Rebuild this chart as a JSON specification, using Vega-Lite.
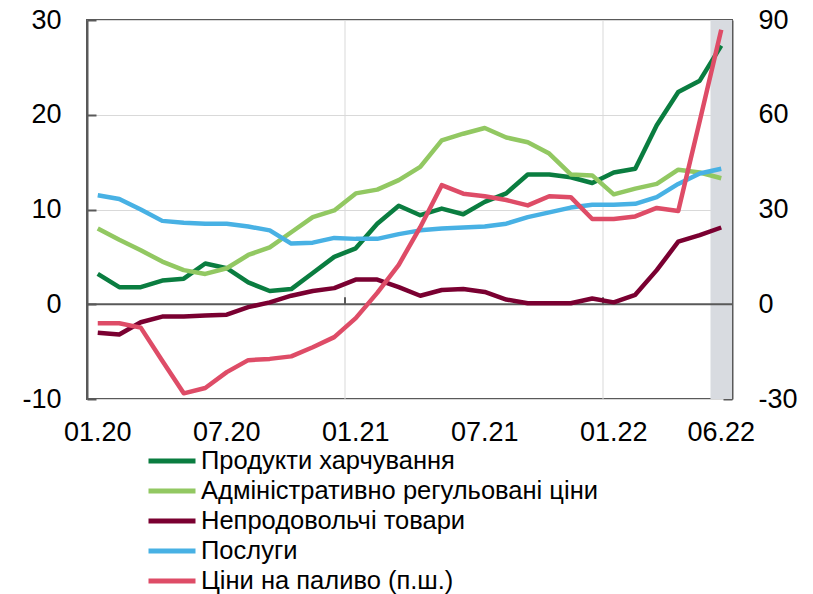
{
  "$schema": "https://vega.github.io/schema/vega-lite/v6.json",
  "width": 645,
  "height": 379,
  "autosize": {"type": "none"},
  "padding": {"left": 87, "top": 20, "right": 81, "bottom": 195},
  "background": "white",
  "config": {
    "view": {"stroke": "#595959", "strokeWidth": 2},
    "font": "Liberation Sans",
    "axis": {"labelFont": "Liberation Sans", "labelFontSize": 27, "labelColor": "#000000"},
    "axisX": {"domain": false, "ticks": false, "grid": false, "labelPadding": 20, "labelAngle": 0},
    "legend": {
      "orient": "none", "legendX": 59, "legendY": 426, "padding": 0,
      "symbolType": "stroke", "symbolSize": 2209, "symbolStrokeWidth": 5,
      "labelFont": "Liberation Sans", "labelFontSize": 25.5, "labelColor": "#000000",
      "labelLimit": 0, "clipHeight": 30, "rowPadding": 0, "labelOffset": 3
    }
  },
  "datasets": {
    "band": [{"month": "06.22"}],
    "years": [{"month": "01.21"}, {"month": "01.22"}],
    "zero": [{"level": 0}],
    "series": [
      {"month": "01.20", "series": "Продукти харчування", "value": 3.2},
      {"month": "02.20", "series": "Продукти харчування", "value": 1.8},
      {"month": "03.20", "series": "Продукти харчування", "value": 1.8},
      {"month": "04.20", "series": "Продукти харчування", "value": 2.5},
      {"month": "05.20", "series": "Продукти харчування", "value": 2.7},
      {"month": "06.20", "series": "Продукти харчування", "value": 4.3},
      {"month": "07.20", "series": "Продукти харчування", "value": 3.8},
      {"month": "08.20", "series": "Продукти харчування", "value": 2.3},
      {"month": "09.20", "series": "Продукти харчування", "value": 1.4},
      {"month": "10.20", "series": "Продукти харчування", "value": 1.6},
      {"month": "11.20", "series": "Продукти харчування", "value": 3.3},
      {"month": "12.20", "series": "Продукти харчування", "value": 5.0},
      {"month": "01.21", "series": "Продукти харчування", "value": 5.9},
      {"month": "02.21", "series": "Продукти харчування", "value": 8.5},
      {"month": "03.21", "series": "Продукти харчування", "value": 10.4},
      {"month": "04.21", "series": "Продукти харчування", "value": 9.4},
      {"month": "05.21", "series": "Продукти харчування", "value": 10.1},
      {"month": "06.21", "series": "Продукти харчування", "value": 9.5},
      {"month": "07.21", "series": "Продукти харчування", "value": 10.8},
      {"month": "08.21", "series": "Продукти харчування", "value": 11.7},
      {"month": "09.21", "series": "Продукти харчування", "value": 13.7},
      {"month": "10.21", "series": "Продукти харчування", "value": 13.7},
      {"month": "11.21", "series": "Продукти харчування", "value": 13.4},
      {"month": "12.21", "series": "Продукти харчування", "value": 12.8},
      {"month": "01.22", "series": "Продукти харчування", "value": 13.9},
      {"month": "02.22", "series": "Продукти харчування", "value": 14.3},
      {"month": "03.22", "series": "Продукти харчування", "value": 18.9},
      {"month": "04.22", "series": "Продукти харчування", "value": 22.4},
      {"month": "05.22", "series": "Продукти харчування", "value": 23.6},
      {"month": "06.22", "series": "Продукти харчування", "value": 27.3},

      {"month": "01.20", "series": "Адміністративно регульовані ціни", "value": 8.0},
      {"month": "02.20", "series": "Адміністративно регульовані ціни", "value": 6.8},
      {"month": "03.20", "series": "Адміністративно регульовані ціни", "value": 5.7},
      {"month": "04.20", "series": "Адміністративно регульовані ціни", "value": 4.5},
      {"month": "05.20", "series": "Адміністративно регульовані ціни", "value": 3.6},
      {"month": "06.20", "series": "Адміністративно регульовані ціни", "value": 3.2},
      {"month": "07.20", "series": "Адміністративно регульовані ціни", "value": 3.8},
      {"month": "08.20", "series": "Адміністративно регульовані ціни", "value": 5.2},
      {"month": "09.20", "series": "Адміністративно регульовані ціни", "value": 6.0},
      {"month": "10.20", "series": "Адміністративно регульовані ціни", "value": 7.6},
      {"month": "11.20", "series": "Адміністративно регульовані ціни", "value": 9.2},
      {"month": "12.20", "series": "Адміністративно регульовані ціни", "value": 9.9},
      {"month": "01.21", "series": "Адміністративно регульовані ціни", "value": 11.7},
      {"month": "02.21", "series": "Адміністративно регульовані ціни", "value": 12.1},
      {"month": "03.21", "series": "Адміністративно регульовані ціни", "value": 13.1},
      {"month": "04.21", "series": "Адміністративно регульовані ціни", "value": 14.5},
      {"month": "05.21", "series": "Адміністративно регульовані ціни", "value": 17.3},
      {"month": "06.21", "series": "Адміністративно регульовані ціни", "value": 18.0},
      {"month": "07.21", "series": "Адміністративно регульовані ціни", "value": 18.6},
      {"month": "08.21", "series": "Адміністративно регульовані ціни", "value": 17.6},
      {"month": "09.21", "series": "Адміністративно регульовані ціни", "value": 17.1},
      {"month": "10.21", "series": "Адміністративно регульовані ціни", "value": 15.9},
      {"month": "11.21", "series": "Адміністративно регульовані ціни", "value": 13.7},
      {"month": "12.21", "series": "Адміністративно регульовані ціни", "value": 13.6},
      {"month": "01.22", "series": "Адміністративно регульовані ціни", "value": 11.6},
      {"month": "02.22", "series": "Адміністративно регульовані ціни", "value": 12.2},
      {"month": "03.22", "series": "Адміністративно регульовані ціни", "value": 12.7},
      {"month": "04.22", "series": "Адміністративно регульовані ціни", "value": 14.2},
      {"month": "05.22", "series": "Адміністративно регульовані ціни", "value": 13.9},
      {"month": "06.22", "series": "Адміністративно регульовані ціни", "value": 13.3},

      {"month": "01.20", "series": "Непродовольчі товари", "value": -3.0},
      {"month": "02.20", "series": "Непродовольчі товари", "value": -3.2},
      {"month": "03.20", "series": "Непродовольчі товари", "value": -1.9},
      {"month": "04.20", "series": "Непродовольчі товари", "value": -1.3},
      {"month": "05.20", "series": "Непродовольчі товари", "value": -1.3},
      {"month": "06.20", "series": "Непродовольчі товари", "value": -1.2},
      {"month": "07.20", "series": "Непродовольчі товари", "value": -1.1},
      {"month": "08.20", "series": "Непродовольчі товари", "value": -0.3},
      {"month": "09.20", "series": "Непродовольчі товари", "value": 0.2},
      {"month": "10.20", "series": "Непродовольчі товари", "value": 0.9},
      {"month": "11.20", "series": "Непродовольчі товари", "value": 1.4},
      {"month": "12.20", "series": "Непродовольчі товари", "value": 1.7},
      {"month": "01.21", "series": "Непродовольчі товари", "value": 2.6},
      {"month": "02.21", "series": "Непродовольчі товари", "value": 2.6},
      {"month": "03.21", "series": "Непродовольчі товари", "value": 1.8},
      {"month": "04.21", "series": "Непродовольчі товари", "value": 0.9},
      {"month": "05.21", "series": "Непродовольчі товари", "value": 1.5},
      {"month": "06.21", "series": "Непродовольчі товари", "value": 1.6},
      {"month": "07.21", "series": "Непродовольчі товари", "value": 1.3},
      {"month": "08.21", "series": "Непродовольчі товари", "value": 0.5},
      {"month": "09.21", "series": "Непродовольчі товари", "value": 0.1},
      {"month": "10.21", "series": "Непродовольчі товари", "value": 0.1},
      {"month": "11.21", "series": "Непродовольчі товари", "value": 0.1},
      {"month": "12.21", "series": "Непродовольчі товари", "value": 0.6},
      {"month": "01.22", "series": "Непродовольчі товари", "value": 0.2},
      {"month": "02.22", "series": "Непродовольчі товари", "value": 1.0},
      {"month": "03.22", "series": "Непродовольчі товари", "value": 3.6},
      {"month": "04.22", "series": "Непродовольчі товари", "value": 6.6},
      {"month": "05.22", "series": "Непродовольчі товари", "value": 7.3},
      {"month": "06.22", "series": "Непродовольчі товари", "value": 8.1},

      {"month": "01.20", "series": "Послуги", "value": 11.5},
      {"month": "02.20", "series": "Послуги", "value": 11.1},
      {"month": "03.20", "series": "Послуги", "value": 10.0},
      {"month": "04.20", "series": "Послуги", "value": 8.8},
      {"month": "05.20", "series": "Послуги", "value": 8.6},
      {"month": "06.20", "series": "Послуги", "value": 8.5},
      {"month": "07.20", "series": "Послуги", "value": 8.5},
      {"month": "08.20", "series": "Послуги", "value": 8.2},
      {"month": "09.20", "series": "Послуги", "value": 7.8},
      {"month": "10.20", "series": "Послуги", "value": 6.4},
      {"month": "11.20", "series": "Послуги", "value": 6.5},
      {"month": "12.20", "series": "Послуги", "value": 7.0},
      {"month": "01.21", "series": "Послуги", "value": 6.9},
      {"month": "02.21", "series": "Послуги", "value": 6.9},
      {"month": "03.21", "series": "Послуги", "value": 7.4},
      {"month": "04.21", "series": "Послуги", "value": 7.8},
      {"month": "05.21", "series": "Послуги", "value": 8.0},
      {"month": "06.21", "series": "Послуги", "value": 8.1},
      {"month": "07.21", "series": "Послуги", "value": 8.2},
      {"month": "08.21", "series": "Послуги", "value": 8.5},
      {"month": "09.21", "series": "Послуги", "value": 9.2},
      {"month": "10.21", "series": "Послуги", "value": 9.7},
      {"month": "11.21", "series": "Послуги", "value": 10.2},
      {"month": "12.21", "series": "Послуги", "value": 10.5},
      {"month": "01.22", "series": "Послуги", "value": 10.5},
      {"month": "02.22", "series": "Послуги", "value": 10.6},
      {"month": "03.22", "series": "Послуги", "value": 11.3},
      {"month": "04.22", "series": "Послуги", "value": 12.7},
      {"month": "05.22", "series": "Послуги", "value": 13.8},
      {"month": "06.22", "series": "Послуги", "value": 14.3}
    ],
    "fuel": [
      {"month": "01.20", "series": "Ціни на паливо (п.ш.)", "value": -6.0},
      {"month": "02.20", "series": "Ціни на паливо (п.ш.)", "value": -6.0},
      {"month": "03.20", "series": "Ціни на паливо (п.ш.)", "value": -7.4},
      {"month": "04.20", "series": "Ціни на паливо (п.ш.)", "value": -17.9},
      {"month": "05.20", "series": "Ціни на паливо (п.ш.)", "value": -28.2},
      {"month": "06.20", "series": "Ціни на паливо (п.ш.)", "value": -26.5},
      {"month": "07.20", "series": "Ціни на паливо (п.ш.)", "value": -21.5},
      {"month": "08.20", "series": "Ціни на паливо (п.ш.)", "value": -17.7},
      {"month": "09.20", "series": "Ціни на паливо (п.ш.)", "value": -17.3},
      {"month": "10.20", "series": "Ціни на паливо (п.ш.)", "value": -16.5},
      {"month": "11.20", "series": "Ціни на паливо (п.ш.)", "value": -13.6},
      {"month": "12.20", "series": "Ціни на паливо (п.ш.)", "value": -10.4},
      {"month": "01.21", "series": "Ціни на паливо (п.ш.)", "value": -4.4},
      {"month": "02.21", "series": "Ціни на паливо (п.ш.)", "value": 3.6},
      {"month": "03.21", "series": "Ціни на паливо (п.ш.)", "value": 12.5},
      {"month": "04.21", "series": "Ціни на паливо (п.ш.)", "value": 24.4},
      {"month": "05.21", "series": "Ціни на паливо (п.ш.)", "value": 37.7},
      {"month": "06.21", "series": "Ціни на паливо (п.ш.)", "value": 35.0},
      {"month": "07.21", "series": "Ціни на паливо (п.ш.)", "value": 34.2},
      {"month": "08.21", "series": "Ціни на паливо (п.ш.)", "value": 33.0},
      {"month": "09.21", "series": "Ціни на паливо (п.ш.)", "value": 31.3},
      {"month": "10.21", "series": "Ціни на паливо (п.ш.)", "value": 34.2},
      {"month": "11.21", "series": "Ціни на паливо (п.ш.)", "value": 33.9},
      {"month": "12.21", "series": "Ціни на паливо (п.ш.)", "value": 27.0},
      {"month": "01.22", "series": "Ціни на паливо (п.ш.)", "value": 27.0},
      {"month": "02.22", "series": "Ціни на паливо (п.ш.)", "value": 27.8},
      {"month": "03.22", "series": "Ціни на паливо (п.ш.)", "value": 30.5},
      {"month": "04.22", "series": "Ціни на паливо (п.ш.)", "value": 29.5},
      {"month": "05.22", "series": "Ціни на паливо (п.ш.)", "value": 58.0},
      {"month": "06.22", "series": "Ціни на паливо (п.ш.)", "value": 86.9}
    ]
  },
  "layer": [
    {
      "layer": [
        {
          "data": {"name": "band"},
          "mark": {"type": "rect", "color": "#d8dbe0"},
          "encoding": {
            "x": {
              "field": "month", "type": "ordinal",
              "scale": {"type": "band", "paddingInner": 0, "paddingOuter": 0,
                "domain": ["01.20","02.20","03.20","04.20","05.20","06.20","07.20","08.20","09.20","10.20","11.20","12.20","01.21","02.21","03.21","04.21","05.21","06.21","07.21","08.21","09.21","10.21","11.21","12.21","01.22","02.22","03.22","04.22","05.22","06.22"]},
              "axis": {"values": ["01.20","07.20","01.21","07.21","01.22","06.22"], "title": null}
            }
          }
        },
        {
          "data": {"name": "years"},
          "mark": {"type": "rule", "color": "#d9d9d9", "strokeWidth": 1},
          "encoding": {
            "x": {"field": "month", "type": "ordinal", "bandPosition": 0,
              "axis": {"values": ["01.20","07.20","01.21","07.21","01.22","06.22"], "title": null}}
          }
        },
        {
          "data": {"name": "zero"},
          "mark": {"type": "rule", "color": "#595959", "strokeWidth": 2},
          "encoding": {
            "y": {"field": "level", "type": "quantitative", "scale": {"domain": [-10, 30], "nice": false, "zero": false},
              "axis": {
                "orient": "left", "title": null, "values": [-10, 0, 10, 20, 30],
                "grid": true, "gridColor": "#d9d9d9", "gridWidth": 1,
                "domainColor": "#595959", "domainWidth": 2,
                "tickColor": "#595959", "tickWidth": 2, "tickSize": -9,
                "labelPadding": 35, "labelAlign": "right", "labelExpr": "'' + datum.value"
              }}
          }
        },
        {
          "data": {"name": "years"},
          "mark": {"type": "rule", "color": "#595959", "strokeWidth": 2},
          "encoding": {
            "x": {"field": "month", "type": "ordinal", "bandPosition": 0,
              "axis": {"values": ["01.20","07.20","01.21","07.21","01.22","06.22"], "title": null}},
            "y": {"datum": 0, "type": "quantitative", "scale": {"domain": [-10, 30], "nice": false, "zero": false},
              "axis": {
                "orient": "left", "title": null, "values": [-10, 0, 10, 20, 30],
                "grid": true, "gridColor": "#d9d9d9", "gridWidth": 1,
                "domainColor": "#595959", "domainWidth": 2,
                "tickColor": "#595959", "tickWidth": 2, "tickSize": -9,
                "labelPadding": 35, "labelAlign": "right", "labelExpr": "'' + datum.value"
              }},
            "y2": {"datum": 0.75}
          }
        },
        {
          "data": {"name": "series"},
          "mark": {"type": "line", "strokeWidth": 4.5, "strokeJoin": "round"},
          "encoding": {
            "x": {"field": "month", "type": "ordinal", "bandPosition": 0.5,
              "axis": {"values": ["01.20","07.20","01.21","07.21","01.22","06.22"], "title": null}},
            "y": {
              "field": "value", "type": "quantitative",
              "scale": {"domain": [-10, 30], "nice": false, "zero": false},
              "axis": {
                "orient": "left", "title": null, "values": [-10, 0, 10, 20, 30],
                "grid": true, "gridColor": "#d9d9d9", "gridWidth": 1,
                "domainColor": "#595959", "domainWidth": 2,
                "tickColor": "#595959", "tickWidth": 2, "tickSize": -9,
                "labelPadding": 35, "labelAlign": "right", "labelExpr": "'' + datum.value"
              }
            },
            "color": {
              "field": "series", "type": "nominal",
              "scale": {
                "domain": ["Продукти харчування", "Адміністративно регульовані ціни", "Непродовольчі товари", "Послуги", "Ціни на паливо (п.ш.)"],
                "range": ["#0a7d40", "#92c862", "#7a0031", "#48b1e4", "#de4c67"]
              },
              "legend": {"title": null}
            }
          }
        }
      ]
    },
    {
      "data": {"name": "fuel"},
      "mark": {"type": "line", "strokeWidth": 4.5, "strokeJoin": "round"},
      "encoding": {
        "x": {"field": "month", "type": "ordinal", "bandPosition": 0.5,
          "axis": {"values": ["01.20","07.20","01.21","07.21","01.22","06.22"], "title": null}},
        "y": {
          "field": "value", "type": "quantitative",
          "scale": {"domain": [-30, 90], "nice": false, "zero": false},
          "axis": {
            "orient": "right", "title": null, "values": [-30, 0, 30, 60, 90],
            "grid": false,
            "domainColor": "#595959", "domainWidth": 2,
            "tickColor": "#595959", "tickWidth": 2, "tickSize": -9,
            "labelPadding": 35, "labelAlign": "left", "labelExpr": "'' + datum.value"
          }
        },
        "color": {
          "field": "series", "type": "nominal",
          "scale": {
            "domain": ["Продукти харчування", "Адміністративно регульовані ціни", "Непродовольчі товари", "Послуги", "Ціни на паливо (п.ш.)"],
            "range": ["#0a7d40", "#92c862", "#7a0031", "#48b1e4", "#de4c67"]
          },
          "legend": {"title": null}
        }
      }
    }
  ],
  "resolve": {"scale": {"y": "independent"}}
}
